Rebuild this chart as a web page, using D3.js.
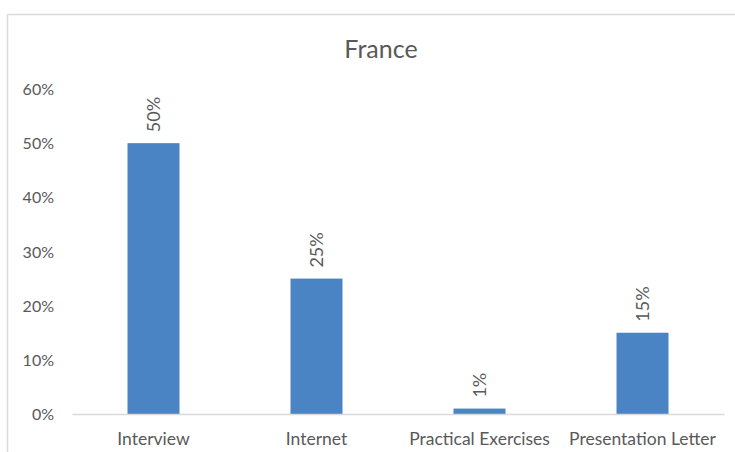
<!DOCTYPE html>
<html>
<head>
<meta charset="utf-8">
<script src="https://cdn.jsdelivr.net/npm/d3@7"></script>
<style>
  html, body { margin: 0; padding: 0; background: #fff; }
  svg { display: block; }
  text { font-family: Lato, "Open Sans", sans-serif; fill: #595959; }
</style>
</head>
<body>
<svg id="chart" width="735" height="452"></svg>
<script>
// Recruitment methods used in France
const categories = ["Interview", "Internet", "Practical Exercises", "Presentation Letter"];
const values = [0.50, 0.25, 0.01, 0.15];
const valueLabels = ["50%", "25%", "1%", "15%"];
const yTicks = [0, 0.1, 0.2, 0.3, 0.4, 0.5, 0.6];
const title = "France";

const svg = d3.select("#chart");

// Chart frame
svg.append("rect")
  .attr("x", 7.5).attr("y", 14.5)
  .attr("width", 740).attr("height", 450)
  .attr("fill", "#fff").attr("stroke", "#d9d9d9").attr("stroke-width", 1.5);

const x = d3.scaleBand()
  .domain(categories)
  .range([72, 724])
  .paddingInner(0.681)
  .paddingOuter(0.3405);

const y = d3.scaleLinear().domain([0, 0.6]).range([414, 89]);

// Title
svg.append("text")
  .attr("x", 381).attr("y", 58)
  .attr("text-anchor", "middle")
  .style("font-size", "25px")
  .text(title);

// Y axis labels (no line, no ticks)
const yAxis = d3.axisLeft(y).tickValues(yTicks).tickFormat(d3.format(".0%")).tickSize(0).tickPadding(0);
const gy = svg.append("g").attr("transform", "translate(54,0)").call(yAxis);
gy.select(".domain").remove();
gy.selectAll("text")
  .attr("fill", "#595959")
  .style("font-family", "Lato, sans-serif")
  .style("font-size", "16px")
  .attr("dy", "0.35em");

// Bars
svg.append("g").selectAll("rect")
  .data(values)
  .join("rect")
  .attr("x", (d, i) => x(categories[i]))
  .attr("y", d => y(d))
  .attr("width", x.bandwidth())
  .attr("height", d => y(0) - y(d))
  .attr("fill", "#4a84c4");

// Baseline / x axis
const xAxis = d3.axisBottom(x).tickSize(0).tickPadding(19);
const gx = svg.append("g").attr("transform", `translate(0,${y(0)})`).call(xAxis);
gx.select(".domain").attr("stroke", "#d9d9d9").attr("stroke-width", 1.5);
gx.selectAll("text")
  .attr("fill", "#595959")
  .style("font-family", "Lato, sans-serif")
  .style("font-size", "17.5px");

// Rotated value labels above bars
svg.append("g").selectAll("text")
  .data(values)
  .join("text")
  .attr("transform", (d, i) => `translate(${x(categories[i]) + x.bandwidth() / 2 + 6},${y(d) - 11}) rotate(-90)`)
  .attr("text-anchor", "start")
  .style("font-size", "18px")
  .attr("fill", "#404040")
  .text((d, i) => valueLabels[i]);
</script>
</body>
</html>
